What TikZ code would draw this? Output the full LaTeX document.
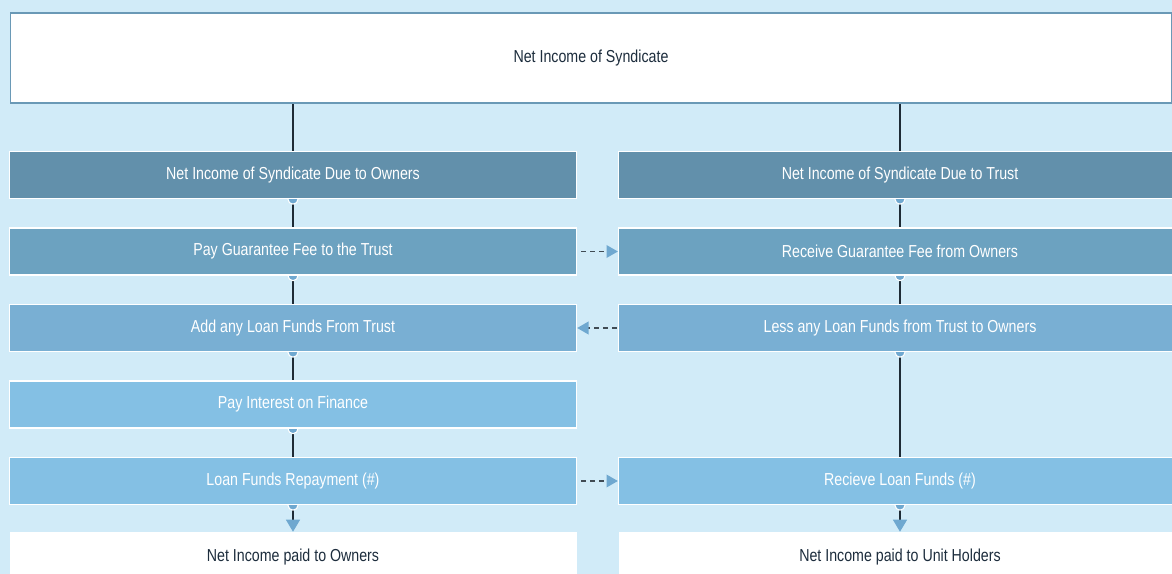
\documentclass[tikz,border=0pt]{standalone}
\usepackage{fontspec}
\setmainfont{Liberation Sans}[FakeStretch=0.82]
\usetikzlibrary{arrows.meta}

\definecolor{skybg}{HTML}{D1EBF8}
\definecolor{frameblue}{HTML}{6A99B6}
\definecolor{shadeA}{HTML}{6290AB}
\definecolor{shadeB}{HTML}{6CA2C0}
\definecolor{shadeC}{HTML}{79AFD3}
\definecolor{shadeD}{HTML}{84C0E4}
\definecolor{tipblue}{HTML}{6FA8D0}
\definecolor{inkdark}{HTML}{1D2D3D}
\definecolor{linedark}{HTML}{1E2B36}

\pgfdeclarelayer{back}
\pgfdeclarelayer{mid}
\pgfsetlayers{back,mid,main}

\begin{document}
\begin{tikzpicture}[x=0.75pt,y=-0.75pt,
    rowbox/.style={fill=#1,draw=white,line width=1pt,text=white,
      minimum height=35.25pt,inner sep=0pt,font=\fontsize{13}{15}\selectfont},
    leftbox/.style={rowbox=#1,minimum width=425.25pt},
    rightbox/.style={rowbox=#1,minimum width=422.25pt},
    endbox/.style={fill=white,text=inkdark,minimum height=37.5pt,inner sep=0pt,
      font=\fontsize{13}{15}\selectfont},
    flowline/.style={draw=linedark,line width=0.85pt},
    knob/.style={fill=tipblue,draw=white,line width=0.8pt},
    linkarrow/.style={draw=linedark!85,line width=1.1pt,dash pattern=on 3.75pt off 3pt,
      -{Triangle[length=8.5pt,width=9.5pt,color=tipblue,fill=tipblue]}}]
  \useasboundingbox (0,0) rectangle (1172,574);
  % background
  \begin{pgfonlayer}{back}
    \fill[skybg] (0,0) rectangle (1172,574);
  \end{pgfonlayer}
  % top box
  \node[fill=white,draw=frameblue,line width=1.1pt,minimum width=870.75pt,
    minimum height=67.5pt,inner sep=0pt,text=inkdark,
    font=\fontsize{13}{15}\selectfont] (top) at (591,58) {Net Income of Syndicate};
  % owners column
  \node[leftbox=shadeA] (l1) at (293,175)   {Net Income of Syndicate Due to Owners};
  \node[leftbox=shadeB] (l2) at (293,251.5) {Pay Guarantee Fee to the Trust};
  \node[leftbox=shadeC] (l3) at (293,328)   {Add any Loan Funds From Trust};
  \node[leftbox=shadeD] (l4) at (293,404.5) {Pay Interest on Finance};
  \node[leftbox=shadeD] (l5) at (293,481)   {Loan Funds Repayment (\#)};
  \node[endbox,minimum width=425.25pt] (lout) at (293,557) {Net Income paid to Owners};
  % trust column
  \node[rightbox=shadeA] (r1) at (900,175)   {Net Income of Syndicate Due to Trust};
  \node[rightbox=shadeB] (r2) at (900,251.5) {Receive Guarantee Fee from Owners};
  \node[rightbox=shadeC] (r3) at (900,328)   {Less any Loan Funds from Trust to Owners};
  \node[rightbox=shadeD] (r5) at (900,481)   {Recieve Loan Funds (\#)};
  \node[endbox,minimum width=422.25pt] (rout) at (900,557) {Net Income paid to Unit Holders};
  % vertical flow
  \begin{pgfonlayer}{mid}
    \draw[flowline] (top.south -| l1.north) -- (l1.north);
    \draw[flowline] (top.south -| r1.north) -- (r1.north);
    \draw[flowline] (l1.south) -- (l2.north);
    \draw[flowline] (l2.south) -- (l3.north);
    \draw[flowline] (l3.south) -- (l4.north);
    \draw[flowline] (l4.south) -- (l5.north);
    \draw[flowline] (r1.south) -- (r2.north);
    \draw[flowline] (r2.south) -- (r3.north);
    \draw[flowline] (r3.south) -- (r5.north);
    \draw[flowline,-{Triangle[length=9pt,width=10.5pt,color=tipblue,fill=tipblue]}]
      (l5.south) -- (lout.north);
    \draw[flowline,-{Triangle[length=9pt,width=10.5pt,color=tipblue,fill=tipblue]}]
      (r5.south) -- (rout.north);
    \foreach \n in {l1,l2,l3,l4,l5,r1,r2,r3,r5}
      \draw[knob] (\n.south) circle (5);
  \end{pgfonlayer}
  % links between columns
  \draw[linkarrow,shorten <=3pt] (l2.east) -- (r2.west);
  \draw[linkarrow,shorten <=1pt] (r3.west) -- (l3.east);
  \draw[linkarrow,shorten <=3pt] (l5.east) -- (r5.west);
\end{tikzpicture}
\end{document}
